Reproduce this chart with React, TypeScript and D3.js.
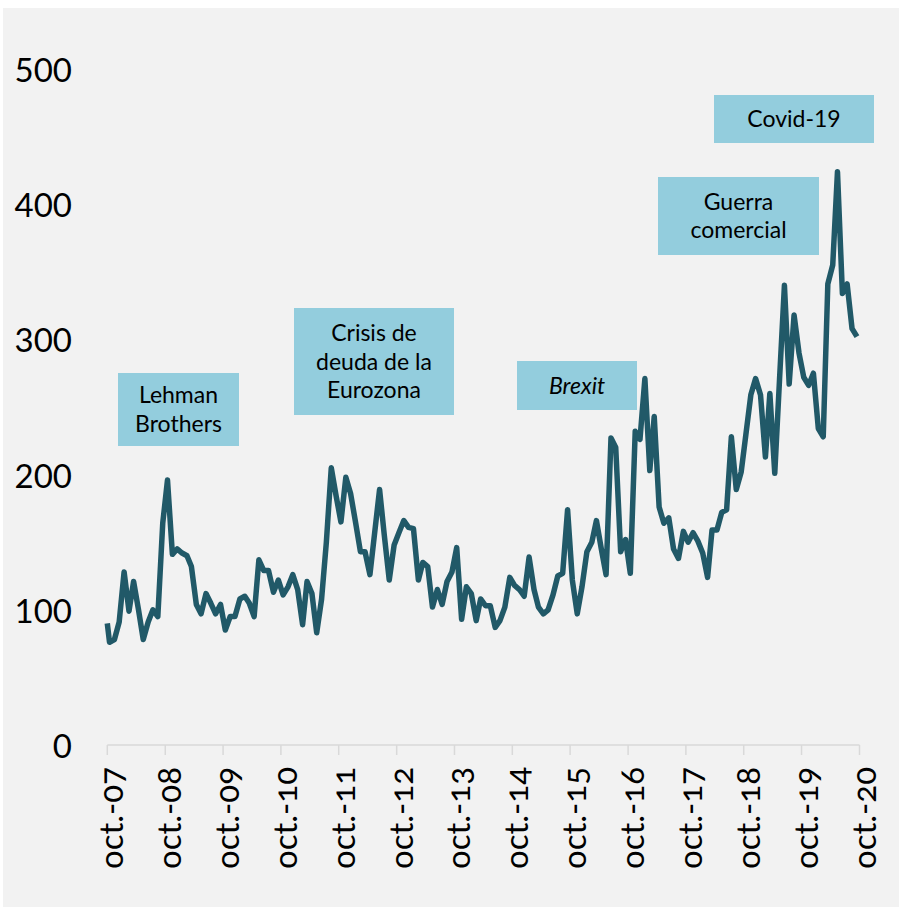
import React from 'react';
import * as d3 from 'd3';

const W = 899;
const H = 907;

// Series values: first point (start of oct-07) then monthly mid-month values oct-07 .. sep-20
const values: number[] = [
  90,
  76, 78, 91, 128, 99, 121, 100, 78, 91, 100, 95, 164,
  196, 141, 145, 142, 140, 132, 104, 97, 112, 105, 97, 104,
  85, 95, 95, 108, 110, 105, 95, 137, 129, 129, 113, 122,
  111, 117, 126, 115, 89, 121, 112, 83, 108, 150, 205, 184,
  165, 198, 186, 165, 143, 143, 126, 157, 189, 155, 122, 148,
  157, 166, 161, 160, 122, 135, 132, 102, 115, 104, 121, 128,
  146, 93, 117, 112, 92, 108, 103, 103, 87, 92, 102, 124,
  118, 115, 110, 139, 115, 102, 97, 100, 111, 125, 127, 174,
  122, 97, 117, 143, 150, 166, 145, 126, 227, 220, 143, 152,
  127, 232, 226, 271, 203, 243, 176, 164, 168, 145, 138, 158,
  150, 157, 151, 142, 124, 159, 159, 172, 174, 228, 189, 202,
  230, 259, 271, 259, 213, 260, 201, 270, 340, 267, 318, 290,
  272, 266, 275, 234, 228, 341, 355, 424, 334, 341, 308, 302,
];

const dates: Date[] = values.map((_, k) =>
  k === 0 ? new Date(2007, 9, 1) : new Date(2007, 9 + (k - 1), 15)
);

const yTicks: number[] = [0, 100, 200, 300, 400, 500];
const xTickYears: number[] = [2007, 2008, 2009, 2010, 2011, 2012, 2013, 2014, 2015, 2016, 2017, 2018, 2019, 2020];
const xTickLabels: string[] = [
  'oct.-07', 'oct.-08', 'oct.-09', 'oct.-10', 'oct.-11', 'oct.-12', 'oct.-13',
  'oct.-14', 'oct.-15', 'oct.-16', 'oct.-17', 'oct.-18', 'oct.-19', 'oct.-20',
];

const annotationLines: string[][] = [
  ['Lehman', 'Brothers'],
  ['Crisis de', 'deuda de la', 'Eurozona'],
  ['Brexit'],
  ['Guerra', 'comercial'],
  ['Covid-19'],
];
const annotationItalic: boolean[] = [false, false, true, false, false];

// box layout (pixels)
const annotationBoxes = [
  { x: 118, y: 373, w: 121, h: 73 },
  { x: 294, y: 308, w: 160, h: 107 },
  { x: 517, y: 361, w: 120, h: 49 },
  { x: 658, y: 177, w: 161, h: 78 },
  { x: 714, y: 95, w: 160, h: 48 },
];

const FONT = 'Lato, "Open Sans", sans-serif';
const LINE_COLOR = '#215968';
const BOX_COLOR = '#93cddd';
const BG = '#f2f2f2';
const AXIS_COLOR = '#d9d9d9';

export default function App() {
  const x = d3
    .scaleTime()
    .domain([new Date(2007, 9, 1), new Date(2020, 9, 1)])
    .range([107.3, 859.5]);
  const y = d3.scaleLinear().domain([0, 500]).range([745, 69]);

  const line = d3
    .line<number>()
    .x((_, i) => x(dates[i]))
    .y((d) => y(d));

  const xTicks = xTickYears.map((yr) => new Date(yr, 9, 1));

  return (
    <svg
      width={W}
      height={H}
      style={{ position: 'absolute', left: 0, top: 0, display: 'block' }}
    >
      <rect x={0} y={0} width={W} height={H} fill="#ffffff" />
      <rect x={3} y={8} width={W - 3} height={H - 8} fill={BG} />

      {/* y tick labels */}
      {yTicks.map((t) => (
        <text
          key={t}
          x={72}
          y={y(t)}
          textAnchor="end"
          dominantBaseline="central"
          fontFamily={FONT}
          fontSize={33}
          fill="#000"
        >
          {t}
        </text>
      ))}

      {/* x axis */}
      <line
        x1={x(xTicks[0])}
        x2={x(xTicks[xTicks.length - 1])}
        y1={y(0)}
        y2={y(0)}
        stroke={AXIS_COLOR}
        strokeWidth={1.5}
      />
      {xTicks.map((d, i) => (
        <g key={i}>
          <line
            x1={x(d)}
            x2={x(d)}
            y1={y(0)}
            y2={y(0) + 10}
            stroke={AXIS_COLOR}
            strokeWidth={1.5}
          />
          <text
            transform={`translate(${x(d) + 16},767) rotate(-90)`}
            textAnchor="end"
            fontFamily={FONT}
            fontSize={33}
            fill="#000"
            style={{ fontVariantNumeric: 'oldstyle-nums' }}
          >
            {xTickLabels[i]}
          </text>
        </g>
      ))}

      {/* series line */}
      <path
        d={line(values) || ''}
        fill="none"
        stroke={LINE_COLOR}
        strokeWidth={5.5}
        strokeLinejoin="round"
        strokeLinecap="butt"
      />

      {/* annotations */}
      {annotationBoxes.map((b, i) => {
        const lines = annotationLines[i];
        const cx = b.x + b.w / 2;
        const cy = b.y + b.h / 2;
        const lh = 28.5;
        return (
          <g key={i}>
            <rect x={b.x} y={b.y} width={b.w} height={b.h} fill={BOX_COLOR} />
            {lines.map((s, k) => (
              <text
                key={k}
                x={cx}
                y={cy + (k - (lines.length - 1) / 2) * lh + 8}
                textAnchor="middle"
                fontFamily={FONT}
                fontSize={23}
                fontStyle={annotationItalic[i] ? 'italic' : 'normal'}
                fill="#000"
              >
                {s}
              </text>
            ))}
          </g>
        );
      })}
    </svg>
  );
}
